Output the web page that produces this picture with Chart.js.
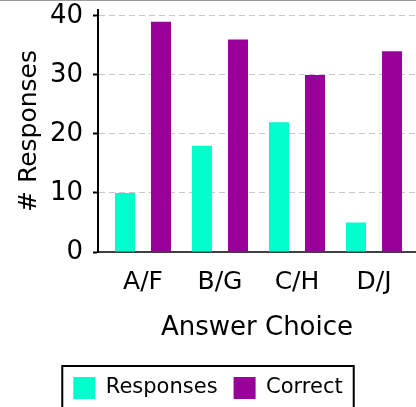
<!DOCTYPE html>
<html>
<head>
<meta charset="utf-8">
<title>Answer Choice</title>
<script src="https://cdn.jsdelivr.net/npm/chart.js@4/dist/chart.umd.min.js"></script>
<style>
    html, body { margin: 0; padding: 0; background: #fff; overflow: hidden; }
    #topRule { height: 1px; background: #9a9a9a; }
    canvas { display: block; }
</style>
</head>
<body>
<div id="topRule"></div>
<canvas id="answerChart" width="416" height="420"></canvas>
<script>
// --- DATA ---
const categories = ['A/F', 'B/G', 'C/H', 'D/J'];
const responses = [10, 18, 22, 5];
const correct = [39, 36, 30, 34];
const yTickStep = 10;
const yMax = 41;

// --- LEGEND FRAME (box around the legend items) ---
const legendFrame = {
    id: 'legendFrame',
    afterDraw(chart) {
        const boxes = chart.legend && chart.legend.legendHitBoxes;
        if (!boxes || !boxes.length) return;
        const left = Math.min(...boxes.map(b => b.left));
        const right = Math.max(...boxes.map(b => b.left + b.width));
        const top = Math.min(...boxes.map(b => b.top));
        const bottom = Math.max(...boxes.map(b => b.top + b.height));
        const ctx = chart.ctx;
        ctx.save();
        ctx.strokeStyle = '#000';
        ctx.lineWidth = 2;
        ctx.strokeRect(left - 11, top - 11, right - left + 22, bottom - top + 22);
        ctx.restore();
    }
};

Chart.defaults.font.family = "'DejaVu Sans', sans-serif";
Chart.defaults.color = '#000';

new Chart(document.getElementById('answerChart'), {
    type: 'bar',
    data: {
        datasets: [
            {
                label: 'Responses',
                data: responses.map((v, i) => ({ x: i, y: v })),
                backgroundColor: '#00FFCC',
                borderWidth: 0
            },
            {
                label: 'Correct',
                data: correct.map((v, i) => ({ x: i, y: v })),
                backgroundColor: '#990099',
                borderWidth: 0
            }
        ]
    },
    options: {
        responsive: false,
        animation: false,
        events: [],
        categoryPercentage: 0.935,
        barPercentage: 0.556,
        layout: { padding: { top: 9, right: 0, bottom: 12, left: 0 } },
        scales: {
            x: {
                type: 'linear',
                offset: false,
                min: -0.5844,
                max: 3.5455,
                afterFit(scale) {
                    scale.height = 109;
                    scale.paddingLeft = 0;
                    scale.paddingRight = 0;
                },
                ticks: {
                    stepSize: 1,
                    includeBounds: false,
                    padding: 15,
                    maxRotation: 0,
                    font: { size: 25 },
                    callback: value => categories[value] ?? ''
                },
                grid: { display: false, drawTicks: false },
                border: { display: true, color: '#404040', width: 2 },
                title: {
                    display: true,
                    text: 'Answer Choice',
                    font: { size: 26 },
                    padding: { top: 0, bottom: 17 }
                }
            },
            y: {
                min: 0,
                max: yMax,
                afterFit(scale) {
                    scale.width = 98;
                    scale.paddingTop = 0;
                    scale.paddingBottom = 0;
                },
                ticks: {
                    stepSize: yTickStep,
                    includeBounds: false,
                    padding: 10,
                    font: { size: 26 }
                },
                grid: {
                    color: '#c8c8c8',
                    lineWidth: 1,
                    tickLength: 5,
                    tickColor: '#000',
                    tickWidth: 2,
                    tickBorderDash: []
                },
                border: { display: true, color: '#000', width: 2, dash: [6, 4] },
                title: {
                    display: true,
                    text: '# Responses',
                    font: { size: 25 },
                    padding: { top: 14, bottom: 0 }
                }
            }
        },
        plugins: {
            tooltip: { enabled: false },
            legend: {
                position: 'bottom',
                labels: {
                    boxWidth: 22,
                    boxHeight: 22,
                    padding: 16,
                    font: { size: 21 }
                }
            }
        }
    },
    plugins: [legendFrame]
});
</script>
</body>
</html>
